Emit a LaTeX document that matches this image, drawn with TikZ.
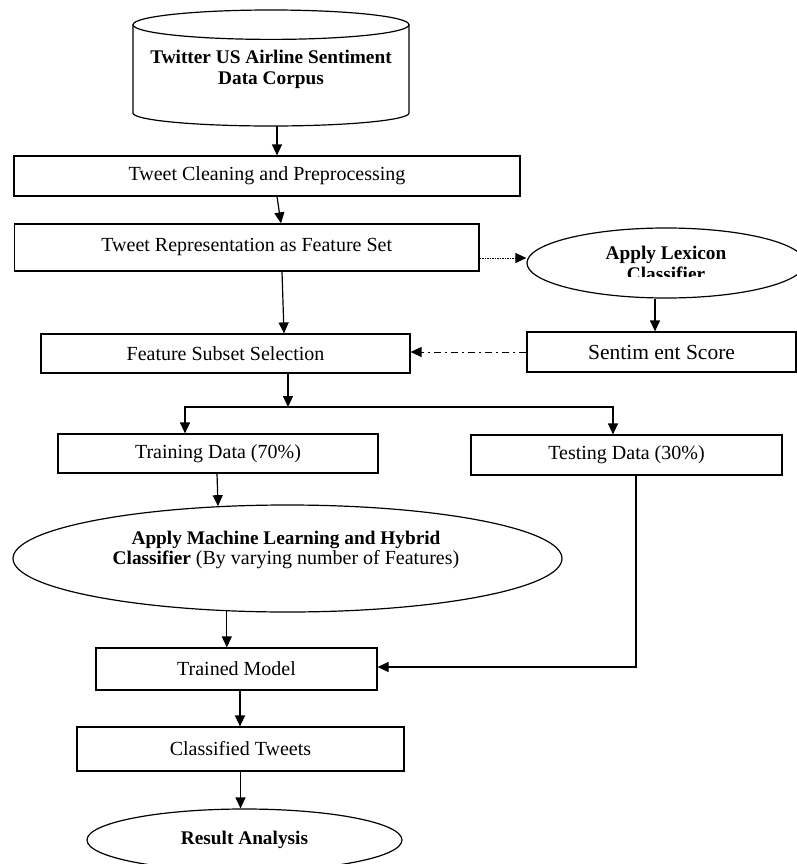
\documentclass[tikz,border=0pt]{standalone}
\usepackage{fontspec}
\setmainfont{Liberation Serif}
\usetikzlibrary{arrows.meta,shapes.geometric}
\newcommand\regf{\fontsize{20}{21}\selectfont}
\newcommand\bigf{\fontsize{21.5}{23}\selectfont}
\newcommand\bldf{\fontsize{19.3}{20.5}\selectfont\bfseries}
\begin{document}
\begin{tikzpicture}[x=1pt,y=1pt,
  ln/.style={line width=1.2pt},
  arr/.style={ln,-{Triangle[length=11pt,width=10pt]}},
  box/.style={draw,ln,rectangle,inner sep=0pt,font=\regf},
  oval/.style={draw,ln,ellipse,inner sep=0pt},
  dotline/.style={line width=1pt,dash pattern=on 1.5pt off 1pt,-{Triangle[length=11pt,width=10pt]}},
  dashdot/.style={line width=1pt,dash pattern=on 7pt off 4pt on 2pt off 4pt,-{Triangle[length=11pt,width=10pt]}}]
\clip (0,0) rectangle (797,-864);
% cylinder
\draw[ln] (271,-24.7) ellipse [x radius=138pt, y radius=14.7pt];
\draw[ln] (133,-24.7) -- (133,-113) arc[start angle=180,end angle=360,x radius=138pt,y radius=13pt] -- (409,-24.7);
\node[font=\bldf, align=center, inner sep=0pt] (corpus) at (271,-69.5) {Twitter US Airline Sentiment\\Data Corpus};
\coordinate (cylbot) at (277,-126);
% boxes
\node[box, minimum width=506pt, minimum height=40pt] (b1) at (267,-176) {Tweet Cleaning and Preprocessing};
\node[box, minimum width=464.5pt, minimum height=47pt] (b2) at (246.75,-247.5) {Tweet Representation as Feature Set};
\node[oval, minimum width=278pt, minimum height=70pt] (lex) at (666,-263) {};
\begin{scope}
\clip (520,-225) rectangle (797,-276);
\node[font=\bldf, align=center, inner sep=0pt] (lextext) at (666,-263.5) {Apply Lexicon\\Classifier};
\end{scope}
\node[box, font=\bigf, minimum width=269pt, minimum height=40pt] (sent) at (661.5,-352) {Sentim ent Score};
\node[box, minimum width=369pt, minimum height=39pt] (feat) at (225.5,-353.5) {Feature Subset Selection};
\coordinate (split) at (288,-407);
\node[box, minimum width=320pt, minimum height=39pt] (train) at (218,-453.5) {Training Data (70\%)};
\node[box, minimum width=311pt, minimum height=40pt] (test) at (626.5,-455) {Testing Data (30\%)};
\node[oval, minimum width=549pt, minimum height=107pt] (ml) at (287.5,-558.5) {};
\node[align=center, inner sep=0pt, font=\regf] (mltext) at (286,-550) {{\bldf Apply Machine Learning and Hybrid}\\[-1pt]{\bldf Classifier} (By varying number of Features)};
\node[box, minimum width=281pt, minimum height=42pt] (trained) at (236.5,-669) {Trained Model};
\node[box, minimum width=327pt, minimum height=44pt] (class) at (240.5,-749) {Classified Tweets};
\node[oval, minimum width=315pt, minimum height=62pt, font=\bldf] (result) at (244.5,-840) {Result Analysis};
% connectors
\draw[arr] (cylbot) -- (cylbot |- b1.north);
\draw[arr] ([xshift=10pt]b1.south) -- ([xshift=34.25pt]b2.north);
\draw[dotline] ([yshift=-10.5pt]b2.east) -- ([yshift=-10.5pt]b2.east -| lex.west);
\draw[arr] ([xshift=-11pt]lex.south) -- ([xshift=-11pt]lex.south |- sent.north);
\draw[dashdot] (sent.west) -- (sent.west -| feat.east);
\draw[arr] ([xshift=35.25pt]b2.south) -- ([xshift=58.5pt]feat.north);
\draw[arr] ([xshift=62.5pt]feat.south) -- (split);
\draw[arr] (split) -| ([xshift=-33pt]train.north);
\draw[arr] (split) -| ([xshift=-13.5pt]test.north);
\draw[arr] ([xshift=-1pt]train.south) -- (ml.143.75);
\draw[arr] (ml.221.3) -- (ml.221.3 |- trained.north);
\draw[arr] ([xshift=9.5pt]test.south) |- ([yshift=2pt]trained.east);
\draw[arr] ([xshift=3.5pt]trained.south) -- ([xshift=3.5pt]trained.south |- class.north);
\draw[arr] (class.south) -- (class.south |- result.north);
\end{tikzpicture}
\end{document}
